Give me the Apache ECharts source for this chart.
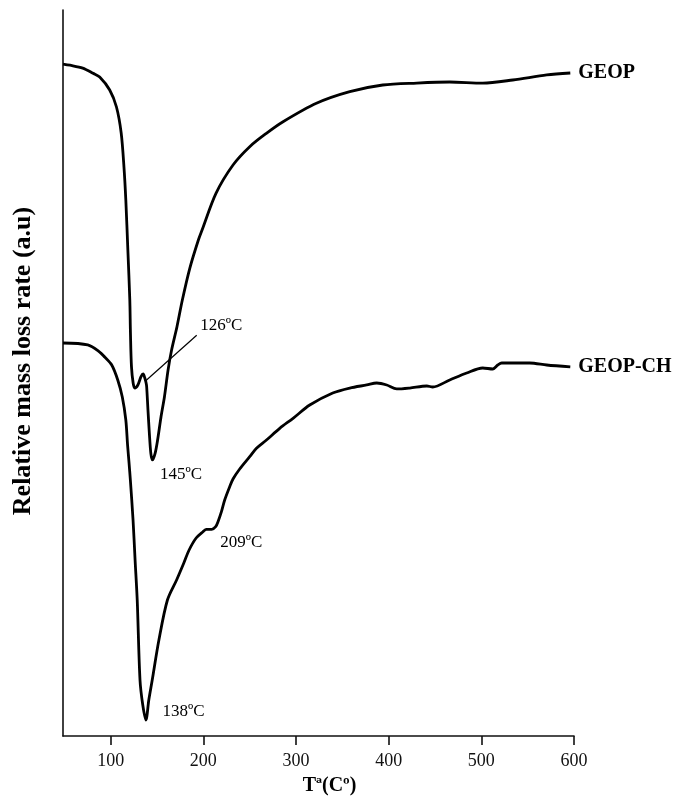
<!DOCTYPE html>
<html>
<head>
<meta charset="utf-8">
<script src="https://cdn.jsdelivr.net/npm/echarts@6/dist/echarts.min.js"></script>
<style>
  html, body { margin: 0; padding: 0; background: #fff; }
  #chart { width: 675px; height: 805px; }
</style>
</head>
<body>
<div id="chart"></div>
<script>
// DTG curves: temperature (ºC) and relative mass loss rate (a.u.)
const geopT = [48.5, 56, 69.8, 80.9, 88.1, 98.9, 106.2, 111.3, 114.3, 116.3, 118.5,
  120.6, 121.3, 122.4, 124.2, 126, 129.3, 132.7, 135, 136.8, 138.2, 138.8, 140.2,
  141.7, 143.3, 145, 147.9, 150.6, 154.3, 158, 161.9, 165.7, 171.5, 177.3, 185.4,
  194.6, 198.6, 213.6, 232, 250, 268, 286, 322, 358, 393.6, 430.3, 465.9, 501.5,
  533.9, 570.6, 596];
const geopRate = [92.56, 92.4, 92.0, 91.28, 90.77, 88.98, 86.64, 83.06, 78.37, 73.83, 66.94,
  60.06, 55.5, 50.87, 48.62, 47.93, 48.35, 49.49, 49.86, 49.31, 48.62, 48.11, 44.9,
  41.69, 38.94, 38.02, 38.94, 40.77, 43.98, 46.74, 50.41, 53.17, 56.38, 60.06, 64.46,
  68.32, 69.7, 74.75, 78.65, 81.17, 83.01, 84.61, 87.15, 88.75, 89.67, 89.94, 90.08,
  89.94, 90.36, 91.05, 91.32];

const chT = [48.5, 75.2, 88.1, 93.5, 101.1, 107.6, 112.5, 116.3, 118.2, 119.8, 121.2,
  124.1, 126.3, 128.6, 131.6, 134.6, 138, 141.1, 144.8, 152, 161.2, 171.1, 178.9,
  184.6, 192.2, 199.6, 203.3, 209, 213.3, 215.8, 219.5, 223, 228.4, 232, 239.2, 250,
  257.3, 268.1, 282.4, 296.8, 314.8, 339.6, 358, 376.3, 387.1, 397.9, 408.7, 422.7,
  441.1, 447.5, 465.9, 484.2, 501.5, 512.3, 517.7, 522, 533.9, 552.2, 570.6, 596];
const chRate = [54.13, 53.86, 52.89, 52.2, 51.1, 49.04, 46.69, 43.53, 40.08, 37.6, 35.26,
  29.75, 24.24, 18.73, 7.71, 4.27, 2.2, 4.96, 7.71, 13.22, 18.73, 21.49, 23.83,
  25.62, 27.27, 28.14, 28.47, 28.47, 28.83, 29.52, 30.9, 32.51, 34.34, 35.4, 36.78, 38.47,
  39.63, 40.77, 42.38, 43.76, 45.59, 47.25, 47.93, 48.35, 48.62, 48.35, 47.8, 47.93,
  48.21, 48.07, 49.04, 50.0, 50.69, 50.55, 51.1, 51.38, 51.38, 51.38, 51.1, 50.83];

const seriesNames = ['GEOP', 'GEOP-CH'];
const tickTemps = [100, 200, 300, 400, 500, 600];

// Temperatures of the marked peaks, per curve
const geopPeaks = [126, 145];
const chPeaks = [138, 209];

const serif = "'Liberation Serif', 'Times New Roman', serif";
const ink = '#000';

function pairs(xs, ys) { return xs.map((x, i) => [x, ys[i]]); }
function rateAt(xs, ys, t) { return ys[xs.indexOf(t)]; }

// Label placement for each peak note, relative to its point
const noteOffsets = { 126: null, 145: [7, 15], 138: [16, -8], 209: [8, 13] };

function peakMarks(xs, ys, peaks) {
  return peaks.filter(t => noteOffsets[t]).map(t => ({
    coord: [t, rateAt(xs, ys, t)],
    label: { formatter: t + 'ºC', offset: noteOffsets[t] }
  }));
}

const noteLabel = {
  show: true, position: 'right', distance: 0,
  fontFamily: serif, fontSize: 17, color: ink
};

// Leader line for the first GEOP peak
const leaderFrom = [137.5, 48.9];
const leaderTo = [192.8, 55.2];

const chart = echarts.init(document.getElementById('chart'), null, { renderer: 'canvas' });

const lineBase = {
  type: 'line',
  showSymbol: false,
  smooth: 0.3,
  lineStyle: { color: ink, width: 2.8 },
  itemStyle: { color: ink },
  endLabel: {
    show: true, formatter: '{a}', distance: 8,
    fontFamily: serif, fontWeight: 'bold', fontSize: 20, color: ink
  },
  emphasis: { disabled: true }
};

chart.setOption({
  animation: false,
  backgroundColor: '#fff',
  grid: { left: 63, right: 101, top: 10, bottom: 69 },
  xAxis: {
    type: 'value', min: 48.5, max: 600,
    axisLine: { lineStyle: { color: '#111', width: 1.6 } },
    axisTick: { customValues: tickTemps, length: 9, lineStyle: { color: '#111', width: 1.6 } },
    axisLabel: { customValues: tickTemps, margin: 16, fontFamily: serif, fontSize: 18, color: '#111' },
    splitLine: { show: false },
    name: 'Tª(Cº)', nameLocation: 'middle', nameGap: 40,
    nameTextStyle: { fontFamily: serif, fontWeight: 'bold', fontSize: 20, color: ink, padding: [0, 0, 0, 22] }
  },
  yAxis: {
    type: 'value', min: 0, max: 100,
    axisLine: { show: true, lineStyle: { color: '#111', width: 1.6 } },
    axisTick: { show: false },
    axisLabel: { show: false },
    splitLine: { show: false },
    name: 'Relative mass loss rate (a.u)', nameLocation: 'middle', nameGap: 27,
    nameTextStyle: { fontFamily: serif, fontWeight: 'bold', fontSize: 26, color: ink, padding: [0, 0, 0, 24] }
  },
  series: [
    Object.assign({}, lineBase, {
      name: seriesNames[0],
      data: pairs(geopT, geopRate),
      markPoint: {
        symbol: 'circle', symbolSize: 1,
        itemStyle: { color: 'rgba(0,0,0,0)' },
        label: noteLabel,
        data: peakMarks(geopT, geopRate, geopPeaks).concat([{
          coord: leaderTo,
          label: { formatter: geopPeaks[0] + 'ºC', offset: [3, -10] }
        }])
      },
      markLine: {
        silent: true, symbol: 'none',
        lineStyle: { color: ink, width: 1.2, type: 'solid' },
        label: { show: false },
        data: [[{ coord: leaderFrom }, { coord: leaderTo }]]
      }
    }),
    Object.assign({}, lineBase, {
      name: seriesNames[1],
      data: pairs(chT, chRate),
      markPoint: {
        symbol: 'circle', symbolSize: 1,
        itemStyle: { color: 'rgba(0,0,0,0)' },
        label: noteLabel,
        data: peakMarks(chT, chRate, chPeaks)
      }
    })
  ]
});
</script>
</body>
</html>
